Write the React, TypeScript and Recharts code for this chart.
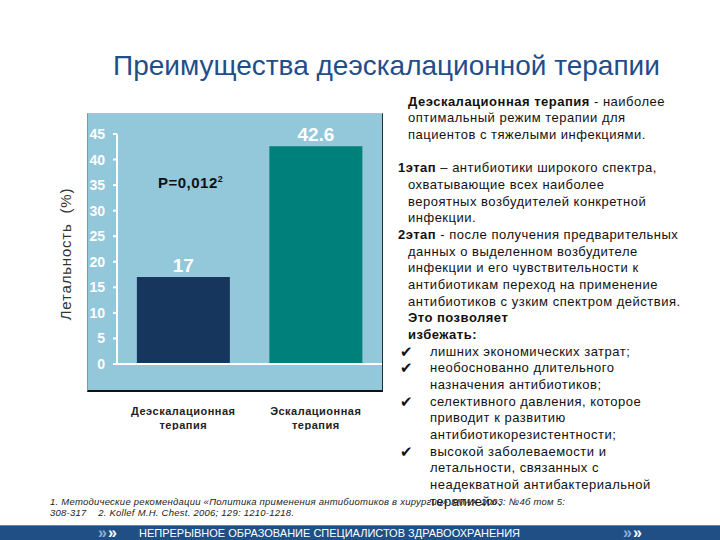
import { BarChart, Bar, XAxis, YAxis, Cell, LabelList } from 'recharts';

// данные графика
const categories = ['Деэскалационная терапия', 'Эскалационная терапия'];
const categoryLines = [
    ['Деэскалационная', 'терапия'],
    ['Эскалационная', 'терапия'],
];
const mortality = [17, 42.6];
const yTicks = [0, 5, 10, 15, 20, 25, 30, 35, 40, 45];
const barColors = ['#17365d', '#00807b'];

const data = categories.map((name, i) => ({ name, value: mortality[i] }));

const FONT = "'Liberation Sans', Arial, sans-serif";

// текст справа: [тип, текст]
const sideLines: [string, string, string?][] = [
    ['lead', 'Деэскалационная терапия', ' - наиболее'],
    ['plain', 'оптимальный режим терапии для'],
    ['plain', 'пациентов с тяжелыми инфекциями.'],
    ['plain', ''],
    ['hang', '1этап', ' – антибиотики широкого спектра,'],
    ['plain', 'охватывающие всех наиболее'],
    ['plain', 'вероятных возбудителей конкретной'],
    ['plain', 'инфекции.'],
    ['hang', '2этап', ' - после получения предварительных'],
    ['plain', 'данных о выделенном возбудителе'],
    ['plain', 'инфекции и его чувствительности к'],
    ['plain', 'антибиотикам переход на применение'],
    ['plain', 'антибиотиков с узким спектром действия.'],
    ['bold', 'Это позволяет'],
    ['bold', 'избежать:'],
    ['check', 'лишних экономических затрат;'],
    ['check', 'необоснованно длительного'],
    ['cont', 'назначения антибиотиков;'],
    ['check', 'селективного давления, которое'],
    ['cont', 'приводит к развитию'],
    ['cont', 'антибиотикорезистентности;'],
    ['check', 'высокой заболеваемости и'],
    ['cont', 'летальности, связанных с'],
    ['cont', 'неадекватной антибактериальной'],
    ['cont', 'терапией».'],
];

const CategoryTick = ({ x, y, payload }: any) => {
    const idx = categories.indexOf(payload.value);
    const lines = categoryLines[idx] || [payload.value];
    return (
        <text
            x={x}
            y={y}
            textAnchor="middle"
            fontSize={11}
            fontWeight="bold"
            fill="#222"
            fontFamily={FONT}
            letterSpacing={0.5}
        >
            {lines.map((l, i) => (
                <tspan key={i} x={x} dy={i === 0 ? 43 : 14}>
                    {l}
                </tspan>
            ))}
        </text>
    );
};

function SideText() {
    const lh = 16.67;
    return (
        <div
            style={{
                position: 'absolute',
                left: 398,
                top: 93.7,
                width: 320,
                fontFamily: FONT,
                fontSize: 13,
                letterSpacing: 0.5,
                color: '#111',
            }}
        >
            {sideLines.map(([kind, a, b], i) => {
                const base: React.CSSProperties = {
                    position: 'absolute',
                    top: i * lh,
                    height: lh,
                    lineHeight: `${lh}px`,
                    whiteSpace: 'pre',
                };
                if (kind === 'lead' || kind === 'hang')
                    return (
                        <div key={i} style={{ ...base, left: kind === 'lead' ? 10 : 0 }}>
                            <b>{a}</b>
                            {b}
                        </div>
                    );
                if (kind === 'bold')
                    return (
                        <div key={i} style={{ ...base, left: 10, fontWeight: 'bold' }}>
                            {a}
                        </div>
                    );
                if (kind === 'check')
                    return (
                        <div key={i} style={{ ...base, left: 0 }}>
                            <span style={{ position: 'absolute', left: 2, top: 0, fontSize: 15 }}>✔</span>
                            <span style={{ position: 'absolute', left: 32, top: 0 }}>{a}</span>
                        </div>
                    );
                if (kind === 'cont')
                    return (
                        <div key={i} style={{ ...base, left: 32 }}>
                            {a}
                        </div>
                    );
                return (
                    <div key={i} style={{ ...base, left: 10 }}>
                        {a}
                    </div>
                );
            })}
        </div>
    );
}

export default function App() {
    return (
        <div
            style={{
                position: 'absolute',
                left: 0,
                top: 0,
                width: 720,
                height: 540,
                background: '#fff',
                overflow: 'hidden',
                fontFamily: FONT,
            }}
        >
            {/* заголовок */}
            <div
                style={{
                    position: 'absolute',
                    left: 113,
                    top: 48,
                    fontSize: 28,
                    color: '#1f4e8a',
                    whiteSpace: 'nowrap',
                    lineHeight: '36px',
                }}
            >
                Преимущества деэскалационной терапии
            </div>

            {/* фон диаграммы */}
            <div
                style={{
                    position: 'absolute',
                    left: 87,
                    top: 113,
                    width: 294,
                    height: 276,
                    background: '#93c8da',
                    borderLeft: '1px solid #7a9aa6',
                    borderTop: '1px solid #a8c4ce',
                    borderRight: '1px solid #1d2f38',
                    borderBottom: '2px solid #111',
                }}
            />

            {/* подпись оси Y */}
            <div
                style={{
                    position: 'absolute',
                    left: 65,
                    top: 254,
                    transform: 'translate(-50%, -50%) rotate(-90deg)',
                    fontSize: 15,
                    letterSpacing: 0.8,
                    color: '#333',
                    whiteSpace: 'pre',
                }}
            >
                {'Летальность  (%)'}
            </div>

            <div style={{ position: 'absolute', left: 40, top: 100 }}>
                <BarChart
                    width={342}
                    height={330}
                    data={data}
                    margin={{ top: 34, right: 0, left: 0, bottom: 6 }}
                    barCategoryGap="15%"
                >
                    <XAxis
                        dataKey="name"
                        height={60}
                        axisLine={{ stroke: '#fff', strokeWidth: 2 }}
                        tickLine={false}
                        tick={<CategoryTick />}
                        interval={0}
                    />
                    <YAxis
                        width={77}
                        domain={[0, 45]}
                        ticks={yTicks}
                        interval={0}
                        axisLine={{ stroke: '#fff', strokeWidth: 2 }}
                        tickLine={{ stroke: '#fff', strokeWidth: 2 }}
                        tickSize={4}
                        tickMargin={8}
                        tick={{ fill: '#fff', fontSize: 14, fontWeight: 'bold', fontFamily: FONT }}
                    />
                    <Bar dataKey="value" isAnimationActive={false}>
                        {data.map((d, i) => (
                            <Cell key={d.name} fill={barColors[i]} />
                        ))}
                        <LabelList
                            dataKey="value"
                            position="top"
                            fill="#fff"
                            fontSize={19}
                            fontWeight="bold"
                            fontFamily={FONT}
                        />
                    </Bar>
                </BarChart>
            </div>

            {/* p-значение */}
            <div
                style={{
                    position: 'absolute',
                    left: 158,
                    top: 173,
                    fontSize: 15,
                    letterSpacing: 0.5,
                    fontWeight: 'bold',
                    color: '#111',
                    lineHeight: '19px',
                    whiteSpace: 'nowrap',
                }}
            >
                P=0,012<sup style={{ fontSize: 9, verticalAlign: 'top', lineHeight: '12px' }}>2</sup>
            </div>

            <SideText />

            {/* сноски */}
            <div
                style={{
                    position: 'absolute',
                    left: 50,
                    top: 496,
                    fontSize: 9.5,
                    fontStyle: 'italic',
                    color: '#222',
                    whiteSpace: 'pre',
                    lineHeight: '11px',
                    letterSpacing: 0.25,
                }}
            >
                <div>1. Методические рекомендации «Политика применения антибиотиков в хирургии» КМАХ 2003: №4б том 5:</div>
                <div>{'308-317    2. Kollef M.H. Chest. 2006; 129: 1210-1218.'}</div>
            </div>

            {/* нижняя полоса */}
            <div
                style={{
                    position: 'absolute',
                    left: 0,
                    top: 525,
                    width: 720,
                    height: 15,
                    background: '#1f4f85',
                    borderTop: '1px solid #5d86b4',
                    color: '#fff',
                    fontSize: 11,
                    lineHeight: '15px',
                    whiteSpace: 'nowrap',
                }}
            >
                <span style={{ position: 'absolute', left: 98, top: -1, fontSize: 16, fontWeight: 'bold', color: '#8fb0d6' }}>»</span>
                <span style={{ position: 'absolute', left: 108, top: -1, fontSize: 16, fontWeight: 'bold' }}>»</span>
                <span style={{ position: 'absolute', left: 139, top: 0 }}>НЕПРЕРЫВНОЕ ОБРАЗОВАНИЕ СПЕЦИАЛИСТОВ ЗДРАВООХРАНЕНИЯ</span>
                <span style={{ position: 'absolute', left: 623, top: -1, fontSize: 16, fontWeight: 'bold', color: '#8fb0d6' }}>»</span>
                <span style={{ position: 'absolute', left: 633, top: -1, fontSize: 16, fontWeight: 'bold' }}>»</span>
            </div>
        </div>
    );
}
